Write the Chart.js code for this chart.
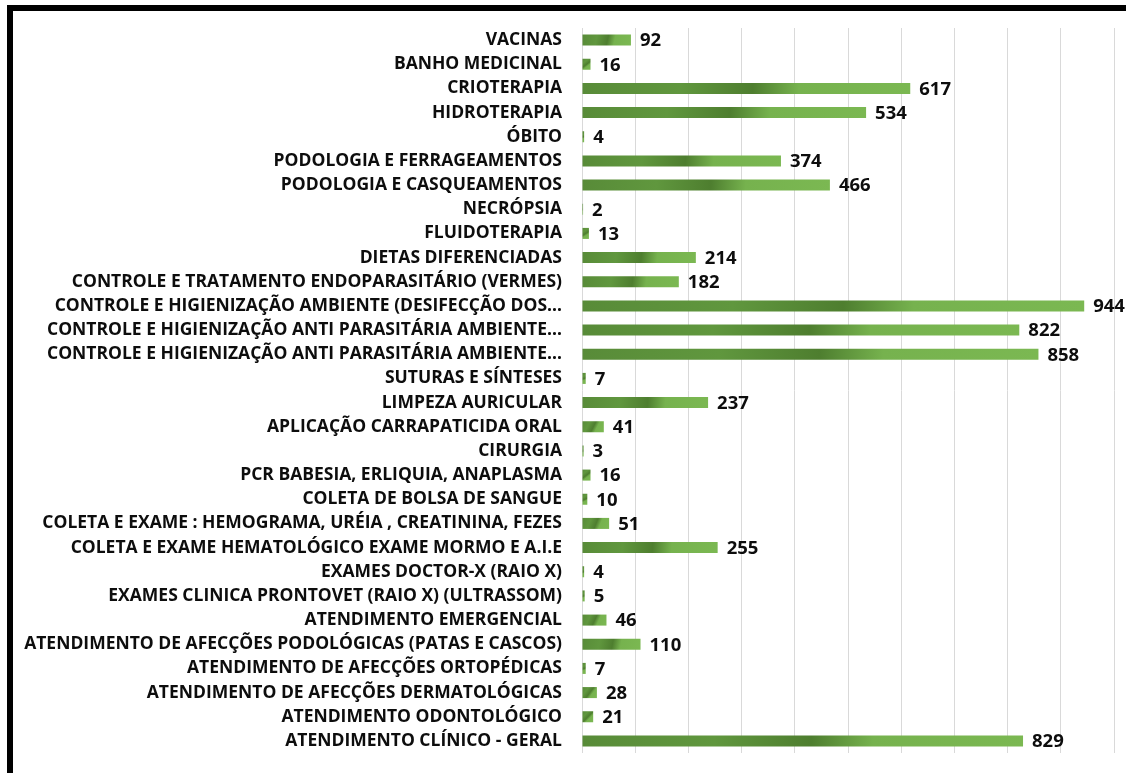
<!DOCTYPE html>
<html>
<head>
<meta charset="utf-8">
<script src="https://cdn.jsdelivr.net/npm/chart.js@4"></script>
<style>
  html, body { margin: 0; padding: 0; background: #fff; }
  body { width: 1126px; height: 773px; position: relative; overflow: hidden; }
  #wrap { position: absolute; left: 0; top: 0; width: 1126px; height: 773px; }
  #frame {
    position: absolute; left: 7px; top: 5px; width: 1130px; height: 780px;
    border: 6px solid #000; box-sizing: border-box; pointer-events: none;
  }
</style>
</head>
<body>
<div id="wrap"><canvas id="chart" width="1126" height="773"></canvas></div>
<div id="frame"></div>
<script>
// ==================== DATA ====================
const categories = [
  'VACINAS',
  'BANHO MEDICINAL',
  'CRIOTERAPIA',
  'HIDROTERAPIA',
  'ÓBITO',
  'PODOLOGIA E FERRAGEAMENTOS',
  'PODOLOGIA E CASQUEAMENTOS',
  'NECRÓPSIA',
  'FLUIDOTERAPIA',
  'DIETAS DIFERENCIADAS',
  'CONTROLE E TRATAMENTO ENDOPARASITÁRIO (VERMES)',
  'CONTROLE E HIGIENIZAÇÃO AMBIENTE (DESIFECÇÃO DOS…',
  'CONTROLE E HIGIENIZAÇÃO ANTI PARASITÁRIA AMBIENTE…',
  'CONTROLE E HIGIENIZAÇÃO ANTI PARASITÁRIA AMBIENTE…',
  'SUTURAS E SÍNTESES',
  'LIMPEZA AURICULAR',
  'APLICAÇÃO CARRAPATICIDA ORAL',
  'CIRURGIA',
  'PCR BABESIA, ERLIQUIA, ANAPLASMA',
  'COLETA DE BOLSA DE SANGUE',
  'COLETA E EXAME : HEMOGRAMA, URÉIA , CREATININA, FEZES',
  'COLETA E EXAME HEMATOLÓGICO EXAME MORMO E A.I.E',
  'EXAMES DOCTOR-X (RAIO X)',
  'EXAMES CLINICA PRONTOVET (RAIO X) (ULTRASSOM)',
  'ATENDIMENTO EMERGENCIAL',
  'ATENDIMENTO DE AFECÇÕES PODOLÓGICAS (PATAS E CASCOS)',
  'ATENDIMENTO DE AFECÇÕES ORTOPÉDICAS',
  'ATENDIMENTO DE AFECÇÕES DERMATOLÓGICAS',
  'ATENDIMENTO ODONTOLÓGICO',
  'ATENDIMENTO CLÍNICO - GERAL'
];

const totals = [
  92, 16, 617, 534, 4, 374, 466, 2, 13, 214,
  182, 944, 822, 858, 7, 237, 41, 3, 16, 10,
  51, 255, 4, 5, 46, 110, 7, 28, 21, 829
];

const xMin = 0;
const xMax = 1000;
const xStep = 100;

// ==================== STYLE ====================
const labelFont = { family: "'Open Sans', sans-serif", size: 17.5, weight: 'bold' };
const valueFont = "bold 18.5px 'Open Sans', sans-serif";
const gridColor = '#d9d9d9';

// green bar fill, dark on the left, light on the right
function barFill(ctx) {
  const chart = ctx.chart;
  const xs = chart.scales.x, ys = chart.scales.y;
  if (!chart.chartArea || !xs || !ys || ctx.type !== 'data') return '#6aa445';
  const x0 = xs.getPixelForValue(0);
  const x1 = xs.getPixelForValue(ctx.raw);
  const yc = ys.getPixelForValue(ctx.dataIndex);
  const h = 11;
  const g = chart.ctx.createLinearGradient(x0, yc - h / 2, Math.max(x1, x0 + 1), yc + h / 2);
  g.addColorStop(0, '#588b38');
  g.addColorStop(0.3, '#60973e');
  g.addColorStop(0.52, '#4e7e2f');
  g.addColorStop(0.66, '#76b24e');
  g.addColorStop(1, '#7bb852');
  return g;
}

// value labels to the right of each bar
const valueLabels = {
  id: 'valueLabels',
  afterDatasetsDraw(chart) {
    const c = chart.ctx;
    const meta = chart.getDatasetMeta(0);
    c.save();
    c.font = valueFont;
    c.fillStyle = '#0d0d0d';
    c.textAlign = 'left';
    c.textBaseline = 'middle';
    meta.data.forEach((bar, i) => {
      c.fillText(String(totals[i]), bar.x + 9, bar.y + 1);
    });
    c.restore();
  }
};

const chart = new Chart(document.getElementById('chart'), {
  type: 'bar',
  data: {
    labels: categories,
    datasets: [{
      data: totals,
      backgroundColor: barFill,
      borderWidth: 0,
      barPercentage: 0.8,
      categoryPercentage: 0.57
    }]
  },
  options: {
    indexAxis: 'y',
    responsive: false,
    animation: false,
    devicePixelRatio: 1,
    layout: { padding: { top: 28, bottom: 20, right: 12, left: 0 } },
    plugins: { legend: { display: false }, tooltip: { enabled: false } },
    scales: {
      x: {
        min: xMin, max: xMax,
        ticks: { display: false, stepSize: xStep },
        grid: { color: gridColor, lineWidth: 1, drawTicks: false },
        border: { display: false },
        afterFit(scale) { scale.height = 0; }
      },
      y: {
        ticks: { autoSkip: false, color: '#0d0d0d', font: labelFont, padding: 20 },
        grid: { display: false, drawTicks: false },
        border: { display: false },
        afterFit(scale) {
          scale.width = 582;
          scale.paddingTop = 0;
          scale.paddingBottom = 0;
        }
      }
    }
  },
  plugins: [valueLabels]
});
</script>
</body>
</html>
